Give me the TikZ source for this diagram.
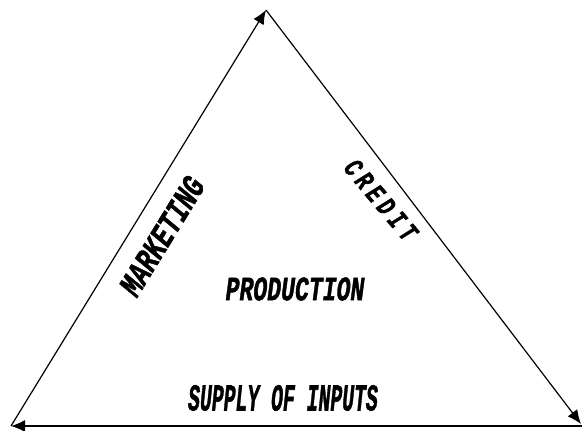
\documentclass[tikz,border=0pt]{standalone}
\usepackage{fontspec}
\setmainfont{Liberation Sans}
\newfontfamily\lblfont[FakeBold=1.6]{Liberation Mono}
\usetikzlibrary{arrows.meta}
\newcommand{\squeeze}[2]{\scalebox{#1}[1]{\lblfont\bfseries\itshape #2}}
\newcommand{\gap}{\kern6.8pt}
\tikzset{
  side/.style={line width=1.2pt, -{Latex[length=14pt,width=12pt]}},
  lbl/.style={font=\fontsize{34}{36}\selectfont, inner sep=0pt}
}
\begin{document}
\begin{tikzpicture}[x=1pt,y=-1pt]
\useasboundingbox (0,0) rectangle (582,431);
\coordinate (top) at (266,10);
\coordinate (lft) at (11,426);
\coordinate (rgt) at (581,424);
\coordinate (bot) at (582,426);
\path
    (lft) edge[side] (top)
    (top) edge[side] (rgt)
    (bot) edge[side] (lft);
\node[lbl, rotate=58.5] (mkt) at (162,236) {\squeeze{0.72}{MARKETING}};
\node[lbl, rotate=-50, font=\fontsize{28}{30}\selectfont] (crd) at (381,200)
    {\squeeze{0.72}{C\gap R\gap E\gap D\gap I\gap T}};
\node[lbl] (prd) at (295,289) {\squeeze{0.68}{PRODUCTION}};
\node[lbl, font=\fontsize{38}{40}\selectfont] (sup) at (283,398) {\squeeze{0.52}{SUPPLY OF INPUTS}};
\end{tikzpicture}
\end{document}
